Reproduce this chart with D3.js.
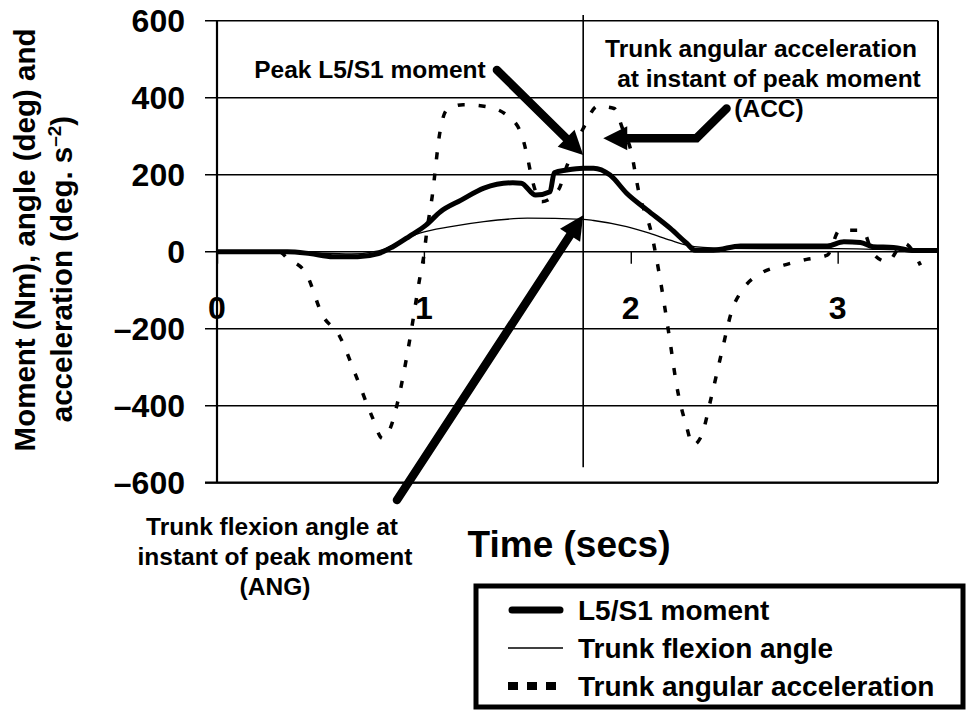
<!DOCTYPE html>
<html>
<head>
<meta charset="utf-8">
<script src="https://cdn.jsdelivr.net/npm/d3@7"></script>
<style>
  html, body { margin: 0; padding: 0; background: #fff; }
  svg { display: block; }
  text { font-family: Arial, "Liberation Sans", Helvetica, sans-serif; font-weight: bold; fill: #000; }
</style>
</head>
<body>
<svg id="chart" width="967" height="710"></svg>
<script>
// ---------------- data ----------------
const yTicks = [600, 400, 200, 0, -200, -400, -600];
const yTickLabels = ["600", "400", "200", "0", "\u2013200", "\u2013400", "\u2013600"];
const xTicks = [0, 1, 2, 3];
const xTickLabels = ["0", "1", "2", "3"];

// L5/S1 moment (Nm)
const momentTime = [0, 0.34, 0.45, 0.56, 0.68, 0.78, 0.85, 0.93, 1.01, 1.08, 1.18, 1.29, 1.43, 1.47, 1.54, 1.61, 1.63, 1.69, 1.77, 1.82, 1.90, 1.98, 2.08, 2.19, 2.27, 2.31, 2.40, 2.53, 2.95, 3.03, 3.11, 3.17, 3.27, 3.37, 3.485];
const momentValues = [0, 0, -5, -13, -13, -5, 13, 40, 69, 104, 134, 165, 179, 178, 147, 156, 205, 212, 217, 217, 199, 152, 108, 61, 22, 4, 4, 15, 15, 26, 24, 13, 11, 3, 3];

// Trunk flexion angle (deg)
const angleTime = [0, 0.35, 0.5, 0.65, 0.78, 0.85, 0.98, 1.13, 1.29, 1.50, 1.77, 1.82, 1.98, 2.09, 2.19, 2.27, 2.35, 2.45, 2.7, 3.0, 3.2, 3.485];
const angleValues = [0, 0, -4, -6, 2, 17, 48, 65, 78, 87, 84, 81, 65, 48, 30, 17, 11, 9, 8, 8, 6, 3];

// Trunk angular acceleration (deg s^-2)
const accTime = [0, 0.30, 0.34, 0.43, 0.51, 0.59, 0.67, 0.75, 0.80, 0.84, 0.87, 0.93, 0.98, 1.00, 1.013, 1.04, 1.078, 1.11, 1.19, 1.30, 1.40, 1.47, 1.50, 1.52, 1.57, 1.65, 1.69, 1.77, 1.84, 1.92, 1.96, 2.00, 2.04, 2.10, 2.14, 2.19, 2.22, 2.27, 2.30, 2.34, 2.39, 2.44, 2.49, 2.54, 2.63, 2.74, 2.85, 2.95, 3.01, 3.12, 3.17, 3.24, 3.32, 3.40];
const accValues = [0, 0, -17, -56, -165, -217, -320, -429, -485, -455, -398, -234, -69, -9, 48, 143, 312, 368, 382, 377, 355, 307, 247, 195, 130, 160, 221, 320, 378, 372, 320, 264, 152, 48, -65, -234, -342, -455, -502, -480, -376, -260, -151, -99, -56, -35, -20, -9, 56, 56, -4, -26, 22, -35];

const seriesNames = ["L5/S1 moment", "Trunk flexion angle", "Trunk angular acceleration"];

// annotation anchor points (data units: time, value)
const peakTime = 1.77;
const peakArrow = [[1.353, 472], [1.77, 251]];
const angArrow = [[0.87, -645], [1.77, 95]];
const accArrow = [[2.463, 372], [2.318, 295], [1.867, 295]];

// ---------------- chart ----------------
const svg = d3.select("#chart");
const x = d3.scaleLinear().domain([0, 3.485]).range([217, 938]);
const y = d3.scaleLinear().domain([-600, 600]).range([482.7, 20.7]);
const pLeft = 217, pRight = 938, pTop = y(600), pBottom = y(-600);

// gridlines (extend left as tick marks)
svg.append("g").selectAll("line").data(yTicks).join("line")
  .attr("x1", 205).attr("x2", pRight)
  .attr("y1", d => y(d)).attr("y2", d => y(d))
  .attr("stroke", "#000").attr("stroke-width", 1.4);

// frame
svg.append("line").attr("x1", pRight).attr("x2", pRight).attr("y1", pTop).attr("y2", pBottom)
  .attr("stroke", "#000").attr("stroke-width", 2);
svg.append("line").attr("x1", 205).attr("x2", pRight).attr("y1", pBottom).attr("y2", pBottom)
  .attr("stroke", "#000").attr("stroke-width", 2.2);
svg.append("line").attr("x1", pLeft).attr("x2", pLeft).attr("y1", pTop).attr("y2", pBottom)
  .attr("stroke", "#000").attr("stroke-width", 2.2);

// x axis at zero using d3 axis
const xAxis = d3.axisBottom(x).tickValues(xTicks).tickSize(12).tickFormat("");
const xg = svg.append("g").attr("transform", `translate(0,${y(0)})`).call(xAxis);
xg.select(".domain").remove();
xg.selectAll(".tick line").attr("stroke", "#000").attr("stroke-width", 1.4);

// x tick labels
svg.append("g").selectAll("text").data(xTicks).join("text")
  .attr("x", d => x(d)).attr("y", 319)
  .attr("text-anchor", "middle").attr("font-size", 32)
  .text((d, i) => xTickLabels[i]);

// y tick labels
svg.append("g").selectAll("text").data(yTicks).join("text")
  .attr("x", 185).attr("y", d => y(d) + 11.5)
  .attr("text-anchor", "end").attr("font-size", 32)
  .text((d, i) => yTickLabels[i]);

// vertical line at peak
svg.append("line").attr("x1", x(peakTime)).attr("x2", x(peakTime))
  .attr("y1", y(615)).attr("y2", y(-560))
  .attr("stroke", "#000").attr("stroke-width", 1.6);

// series
const line = d3.line().x(d => x(d[0])).y(d => y(d[1])).curve(d3.curveMonotoneX);
const zip = (a, b) => a.map((t, i) => [t, b[i]]);

svg.append("path").attr("d", line(zip(accTime, accValues)))
  .attr("fill", "none").attr("stroke", "#000").attr("stroke-width", 3.5)
  .attr("stroke-dasharray", "7,14");
svg.append("path").attr("d", line(zip(angleTime, angleValues)))
  .attr("fill", "none").attr("stroke", "#000").attr("stroke-width", 1.3);
svg.append("path").attr("d", line(zip(momentTime, momentValues)))
  .attr("fill", "none").attr("stroke", "#000").attr("stroke-width", 5)
  .attr("stroke-linejoin", "round");

// arrows
function arrow(pts) {
  const p = pts.map(d => [x(d[0]), y(d[1])]);
  const n = p.length;
  const tip = p[n - 1], prev = p[n - 2];
  const dx = tip[0] - prev[0], dy = tip[1] - prev[1];
  const L = Math.hypot(dx, dy), ux = dx / L, uy = dy / L;
  const headLen = 24, headW = 12;
  const base = [tip[0] - ux * headLen, tip[1] - uy * headLen];
  const shaft = p.slice(0, n - 1).concat([[tip[0] - ux * (headLen - 4), tip[1] - uy * (headLen - 4)]]);
  svg.append("path").attr("d", d3.line()(shaft))
    .attr("fill", "none").attr("stroke", "#000").attr("stroke-width", 8.5)
    .attr("stroke-linecap", "round").attr("stroke-linejoin", "miter");
  const pts3 = [tip, [base[0] - uy * headW, base[1] + ux * headW], [base[0] + uy * headW, base[1] - ux * headW]];
  svg.append("polygon").attr("points", pts3.map(q => q.join(",")).join(" ")).attr("fill", "#000");
}
arrow(peakArrow);
arrow(angArrow);
arrow(accArrow);

// annotation texts
svg.append("text").attr("x", 370).attr("y", 78).attr("text-anchor", "middle").attr("font-size", 24.5).text("Peak L5/S1 moment");
const accLines = [["Trunk angular acceleration", 761, 57], ["at instant of peak moment", 769, 87], ["(ACC)", 769, 117]];
accLines.forEach(([t, cx, cy]) => svg.append("text").attr("x", cx).attr("y", cy).attr("text-anchor", "middle").attr("font-size", 24.5).text(t));
const angLines = [["Trunk flexion angle at", 272, 535], ["instant of peak moment", 275, 565], ["(ANG)", 275, 595]];
angLines.forEach(([t, cx, cy]) => svg.append("text").attr("x", cx).attr("y", cy).attr("text-anchor", "middle").attr("font-size", 24.5).text(t));

// axis titles
svg.append("text").attr("x", 569).attr("y", 557).attr("text-anchor", "middle").attr("font-size", 37).text("Time (secs)");
svg.append("text").attr("transform", "translate(35,240) rotate(-90)").attr("text-anchor", "middle").attr("font-size", 29.5)
  .text("Moment (Nm), angle (deg) and");
const yt2 = svg.append("text").attr("transform", "translate(72,269) rotate(-90)").attr("text-anchor", "middle").attr("font-size", 29.5);
yt2.append("tspan").text("acceleration (deg. s");
yt2.append("tspan").attr("font-size", 19).attr("dy", -11).text("\u20132");
yt2.append("tspan").attr("dy", 11).text(")");

// legend
svg.append("rect").attr("x", 476).attr("y", 586).attr("width", 487).attr("height", 121)
  .attr("fill", "#fff").attr("stroke", "#000").attr("stroke-width", 5);
const legY = [610, 648, 686];
const lg = svg.append("g");
lg.append("line").attr("x1", 512).attr("x2", 560).attr("y1", legY[0]).attr("y2", legY[0])
  .attr("stroke", "#000").attr("stroke-width", 7).attr("stroke-linecap", "round");
lg.append("line").attr("x1", 508).attr("x2", 563).attr("y1", legY[1]).attr("y2", legY[1])
  .attr("stroke", "#000").attr("stroke-width", 1.3);
lg.append("line").attr("x1", 508).attr("x2", 556).attr("y1", legY[2]).attr("y2", legY[2])
  .attr("stroke", "#000").attr("stroke-width", 8).attr("stroke-dasharray", "10,9");
lg.selectAll("text").data(seriesNames).join("text")
  .attr("x", 578).attr("y", (d, i) => legY[i] + 10)
  .attr("font-size", 28).text(d => d);
</script>
</body>
</html>
